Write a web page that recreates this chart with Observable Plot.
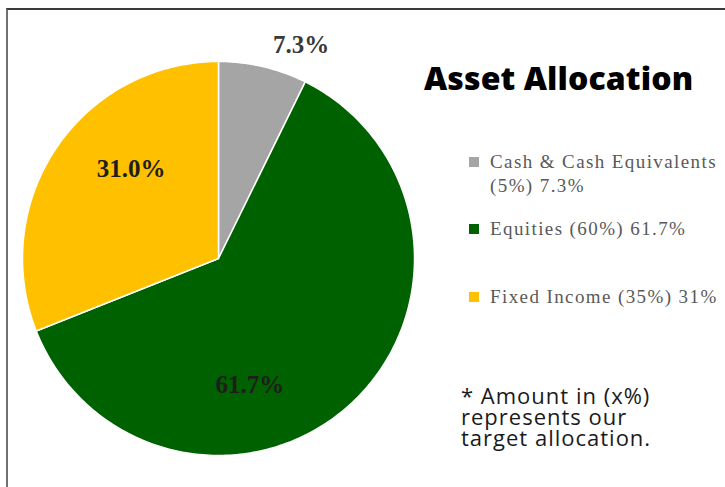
<!DOCTYPE html>
<html><head><meta charset="utf-8">
<script src="https://cdn.jsdelivr.net/npm/d3@7"></script>
<script src="https://cdn.jsdelivr.net/npm/@observablehq/plot@0.6"></script>
<style>
html,body{margin:0;padding:0;background:#fff;}
#wrap{position:relative;width:725px;height:487px;overflow:hidden;background:#fff;}
#frame{position:absolute;left:6px;top:8px;width:730px;height:490px;border-top:2px solid #3a3a3a;border-left:2px solid #707070;box-sizing:border-box;}
#chart{position:absolute;left:0;top:0;}
#title{position:absolute;left:424px;top:60px;font-family:"Open Sans",sans-serif;font-weight:800;font-size:32px;line-height:36px;color:#000;white-space:nowrap;letter-spacing:0.1px;}
.leg{position:absolute;left:469px;width:256px;font-family:"Liberation Serif",serif;font-size:19px;line-height:24px;color:#595959;letter-spacing:1.4px;}
.leg .sw{position:absolute;left:0;top:7px;width:10px;height:10px;}
.leg .tx{margin-left:21px;}
.leg:nth-of-type(1){top:150px;}
.leg:nth-of-type(2){top:217px;}
.leg:nth-of-type(3){top:285px;}
#note{position:absolute;left:461px;top:385px;font-family:"Open Sans",sans-serif;font-weight:400;font-size:22px;line-height:21px;color:#1a1a1a;white-space:nowrap;letter-spacing:1px;}
</style>
</head><body>
<div id="wrap"><div id="frame"></div><div id="chart"></div><div id="title"></div><div id="legend"></div><div id="note"></div></div>
<script>
// ---- data ----
const categories = ["Cash & Cash Equivalents", "Equities", "Fixed Income"];
const targets = ["5%", "60%", "35%"];
const values = [7.3, 61.7, 31.0];
const sliceLabels = ["7.3%", "61.7%", "31.0%"];
const legendValues = ["7.3%", "61.7%", "31%"];
const colors = ["#a5a5a5", "#006100", "#ffc000"];
const titleText = "Asset Allocation";
const noteLines = ["* Amount in (x%)", "represents our", "target allocation."];

// ---- pie geometry from data ----
const arcs = d3.pie().sort(null).value(d => d)(values);
const outline = [];
arcs.forEach((a, i) => {
  const name = categories[i];
  outline.push({name, x: 0, y: 0});
  const n = Math.max(8, Math.ceil((a.endAngle - a.startAngle) * 180 / Math.PI));
  for (let k = 0; k <= n; ++k) {
    const t = a.startAngle + (a.endAngle - a.startAngle) * k / n;
    outline.push({name, x: Math.sin(t), y: Math.cos(t)});
  }
  outline.push({name, x: 0, y: 0});
});
const labels = arcs.map((a, i) => {
  const m = (a.startAngle + a.endAngle) / 2;
  const r = i === 0 ? 1.16 : 0.65;
  return {name: categories[i], label: sliceLabels[i], x: Math.sin(m) * r, y: Math.cos(m) * r};
});

const plot = Plot.plot({
  width: 725,
  height: 487,
  margin: 0,
  x: {domain: [-1, 1], range: [22, 414], axis: null},
  y: {domain: [-1, 1], range: [455, 61], axis: null},
  color: {domain: categories, range: colors},
  style: {background: "transparent", overflow: "visible"},
  marks: [
    Plot.line(outline, {x: "x", y: "y", z: "name", fill: "name", stroke: "#fff", strokeWidth: 1.5, strokeLinejoin: "round", curve: "linear"}),
    Plot.text(labels.filter(d => d.name === categories[0]), {x: "x", y: "y", text: "label", dx: 31, dy: 9, fontSize: 25, fontFamily: "Liberation Serif, serif", fontWeight: "bold", fill: "#3a3a3a"}),
    Plot.text(labels.filter(d => d.name === categories[1]), {x: "x", y: "y", text: "label", dx: -55, dy: 32, fontSize: 25, fontFamily: "Liberation Serif, serif", fontWeight: "bold", fill: "#1e1e1e"}),
    Plot.text(labels.filter(d => d.name === categories[2]), {x: "x", y: "y", text: "label", dx: 18, dy: -18, fontSize: 25, fontFamily: "Liberation Serif, serif", fontWeight: "bold", fill: "#1e1e1e"})
  ]
});
document.getElementById("chart").appendChild(plot);

document.getElementById("title").textContent = titleText;
const legend = document.getElementById("legend");
categories.forEach((c, i) => {
  const item = document.createElement("div");
  item.className = "leg";
  const sw = document.createElement("div");
  sw.className = "sw";
  sw.style.background = colors[i];
  const tx = document.createElement("div");
  tx.className = "tx";
  tx.textContent = `${c} (${targets[i]}) ${legendValues[i]}`;
  item.appendChild(sw); item.appendChild(tx);
  legend.appendChild(item);
});
const note = document.getElementById("note");
noteLines.forEach(l => { const d = document.createElement("div"); d.textContent = l; note.appendChild(d); });
</script>
</body></html>
